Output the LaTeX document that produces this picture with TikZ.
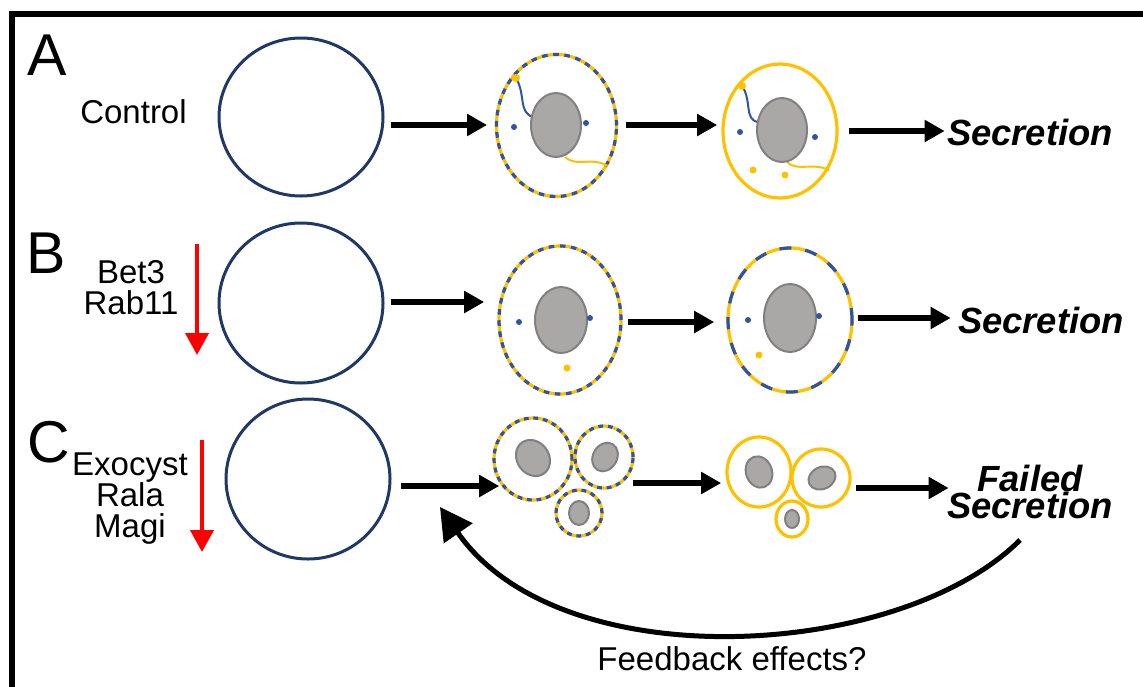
\documentclass[tikz,border=0pt]{standalone}
\usepackage{fontspec}
\setmainfont{Liberation Sans}
\usetikzlibrary{positioning,arrows.meta,shapes.geometric}
\definecolor{cellnavy}{HTML}{1F3864}
\definecolor{memblue}{HTML}{2E54A3}
\definecolor{memgold}{HTML}{FFC000}
\definecolor{nucfill}{HTML}{AAA7A7}
\definecolor{nucedge}{HTML}{808080}

\begin{document}
\begin{tikzpicture}[x=0.5pt,y=-0.5pt,
    every node/.style={font=\fontsize{16.5}{15.5}\selectfont},
    panel/.style={font=\fontsize{29.5}{30}\selectfont,anchor=base west,inner sep=0pt},
    outcome/.style={font=\fontsize{18.2}{13.5}\selectfont\bfseries\itshape,align=center,inner sep=1pt},
    stemcell/.style={ellipse,draw=cellnavy,line width=1.5pt,inner sep=0pt},
    goldcell/.style={ellipse,draw=memgold,line width=1.6pt,inner sep=0pt},
    mixcell/.style={goldcell,postaction={draw=memblue,line width=1.6pt,dash pattern=#1}},
    mixcell/.default={on 2.8pt off 2.8pt},
    nucleus/.style={fill=nucfill,draw=nucedge,line width=1pt},
    flow/.style={line width=3pt,-{Triangle[length=10pt,width=10.5pt]}},
    knock/.style={draw=red,line width=2pt,-{Triangle[length=11pt,width=11.5pt]}},
    tether/.style={line width=1pt}]
    \useasboundingbox (0,0) rectangle (1143,686);
    \clip (0,0) rectangle (1143,686);
    \draw[line width=3pt] (12,720) -- (12,13.5) -- (1180,13.5);

    % A: control
    \node[panel] (labA) at (27,75) {A};
    \node (ctrl) at (133.5,112) {Control};
    \node[stemcell,minimum width=82pt,minimum height=79pt] (bigA) at (301,117) {};
    \node[mixcell,minimum width=60pt,minimum height=71pt] (cellA1) at (556.5,125.5) {};
    \node[goldcell,minimum width=57pt,minimum height=67pt] (cellA2) at (780,131) {};
    \node[outcome] (secA) at (1030,132) {Secretion};
    \draw[tether,memblue] (516,78) .. controls (526,95) and (518,112) .. (533,117);
    \draw[tether,memgold] (565,157) .. controls (578,168) and (590,156) .. (608,166);
    \draw[nucleus] (556,125) ellipse [x radius=25, y radius=32];
    \fill[memgold] (516,78) circle [radius=4];
    \fill[memblue] (514,127) circle [radius=3] (586,123) circle [radius=3];
    \draw[tether,memblue] (742,86) .. controls (752,100) and (744,120) .. (758,122);
    \draw[tether,memgold] (787,162) .. controls (797,172) and (812,162) .. (829,170);
    \draw[nucleus] (782,130) ellipse [x radius=25, y radius=32];
    \fill[memgold] (742,86) circle [radius=4] (753,170) circle [radius=3.5] (785,175) circle [radius=3.5];
    \fill[memblue] (740,132) circle [radius=3] (815,137) circle [radius=3];
    \coordinate (lvlA1) at (0,125);
    \coordinate (lvlA3) at (0,131);
    \draw[flow,shorten <=3.1pt,shorten >=3.9pt] (bigA.east |- lvlA1) -- (cellA1.west |- lvlA1);
    \draw[flow,shorten <=3.9pt,shorten >=2.1pt] (cellA1.east |- lvlA1) -- (cellA2.west |- lvlA1);
    \draw[flow,shorten <=5.1pt] (cellA2.east |- lvlA3) -- (secA.west |- lvlA3);

    % B: Bet3 / Rab11 down
    \node[panel] (labB) at (26,273) {B};
    \node[align=center] (kdB) at (131,287.5) {Bet3\\Rab11};
    \draw[knock] (197,244) -- (197,355);
    \node[stemcell,minimum width=82pt,minimum height=80pt] (bigB) at (301,303) {};
    \node[mixcell,minimum width=61pt,minimum height=74pt] (cellB1) at (560,320) {};
    \node[mixcell={on 6pt off 7pt},minimum width=62pt,minimum height=72pt] (cellB2) at (790,320) {};
    \node[outcome] (secB) at (1041,320) {Secretion};
    \draw[nucleus] (561,320) ellipse [x radius=26, y radius=33];
    \fill[memblue] (519,322) circle [radius=3] (590,318) circle [radius=3];
    \fill[memgold] (567,368) circle [radius=3.5];
    \draw[nucleus] (790,318) ellipse [x radius=26, y radius=34];
    \fill[memblue] (748,320) circle [radius=3] (819,316) circle [radius=3];
    \fill[memgold] (759,355) circle [radius=3.5];
    \coordinate (lvlB1) at (0,302);
    \coordinate (lvlB2) at (0,322);
    \coordinate (lvlB3) at (0,318);
    \draw[flow,shorten <=3.1pt,shorten >=6.6pt] (bigB.east |- lvlB1) -- (cellB1.west |- lvlB1);
    \draw[flow,shorten <=2.6pt,shorten >=6.1pt] (cellB1.east |- lvlB2) -- (cellB2.west |- lvlB2);
    \draw[flow,shorten <=2.1pt,shorten >=2.5pt] (cellB2.east |- lvlB3) -- (secB.west |- lvlB3);

    % C: Exocyst / Rala / Magi down
    \node[panel] (labC) at (27,462) {C};
    \node[align=center] (kdC) at (130,499) {Exocyst\\Rala\\Magi};
    \draw[knock] (202,440) -- (202,552);
    \node[stemcell,minimum width=82pt,minimum height=80pt] (bigC) at (308,479) {};
    \node[mixcell={on 2.4pt off 2.4pt},minimum width=39pt,minimum height=41pt] (c1) at (533,459) {};
    \node[mixcell={on 2.4pt off 2.4pt},minimum width=29pt,minimum height=31pt] (c2) at (604,457) {};
    \node[mixcell={on 2.4pt off 2.4pt},minimum width=23pt,minimum height=23pt] (c3) at (579,513) {};
    \draw[nucleus,rotate around={35:(533,458)}] (533,458) ellipse [x radius=16, y radius=19];
    \draw[nucleus,rotate around={-30:(605,457)}] (605,457) ellipse [x radius=12, y radius=15];
    \draw[nucleus] (579,513) ellipse [x radius=10, y radius=12];
    \node[goldcell,minimum width=32pt,minimum height=35pt] (y1) at (759,472) {};
    \node[goldcell,minimum width=29pt,minimum height=29pt] (y2) at (821,478) {};
    \node[goldcell,minimum width=16pt,minimum height=18pt] (y3) at (792,519) {};
    \draw[nucleus,rotate around={20:(759,472)}] (759,472) ellipse [x radius=13, y radius=16];
    \draw[nucleus,rotate around={25:(822,478)}] (822,478) ellipse [x radius=14, y radius=11];
    \draw[nucleus] (792,519) ellipse [x radius=7, y radius=9];
    \node[outcome] (failC) at (1030,492) {Failed\\Secretion};
    \coordinate (lvlC1) at (0,486);
    \coordinate (lvlC2) at (0,483);
    \coordinate (lvlC3) at (0,488);
    \draw[flow,shorten <=4.5pt,shorten >=-3.4pt] (bigC.east |- lvlC1) -- (c1.west |- lvlC1);
    \draw[flow,shorten <=-0.9pt,shorten >=2.1pt] (c2.east |- lvlC2) -- (y1.west |- lvlC2);
    \draw[flow,shorten <=2.1pt,shorten >=-2pt] (y2.east |- lvlC3) -- (failC.west |- lvlC3);

    \coordinate (fbfrom) at (1020,540);
    \coordinate (fbto) at (440,507);
    \draw[line width=2.5pt,-{Triangle[length=16pt,width=17pt]}] (fbfrom) .. controls (900,660) and (560,680) .. (fbto);
    \node (fbtext) at (732,659) {Feedback effects?};
\end{tikzpicture}
\end{document}
